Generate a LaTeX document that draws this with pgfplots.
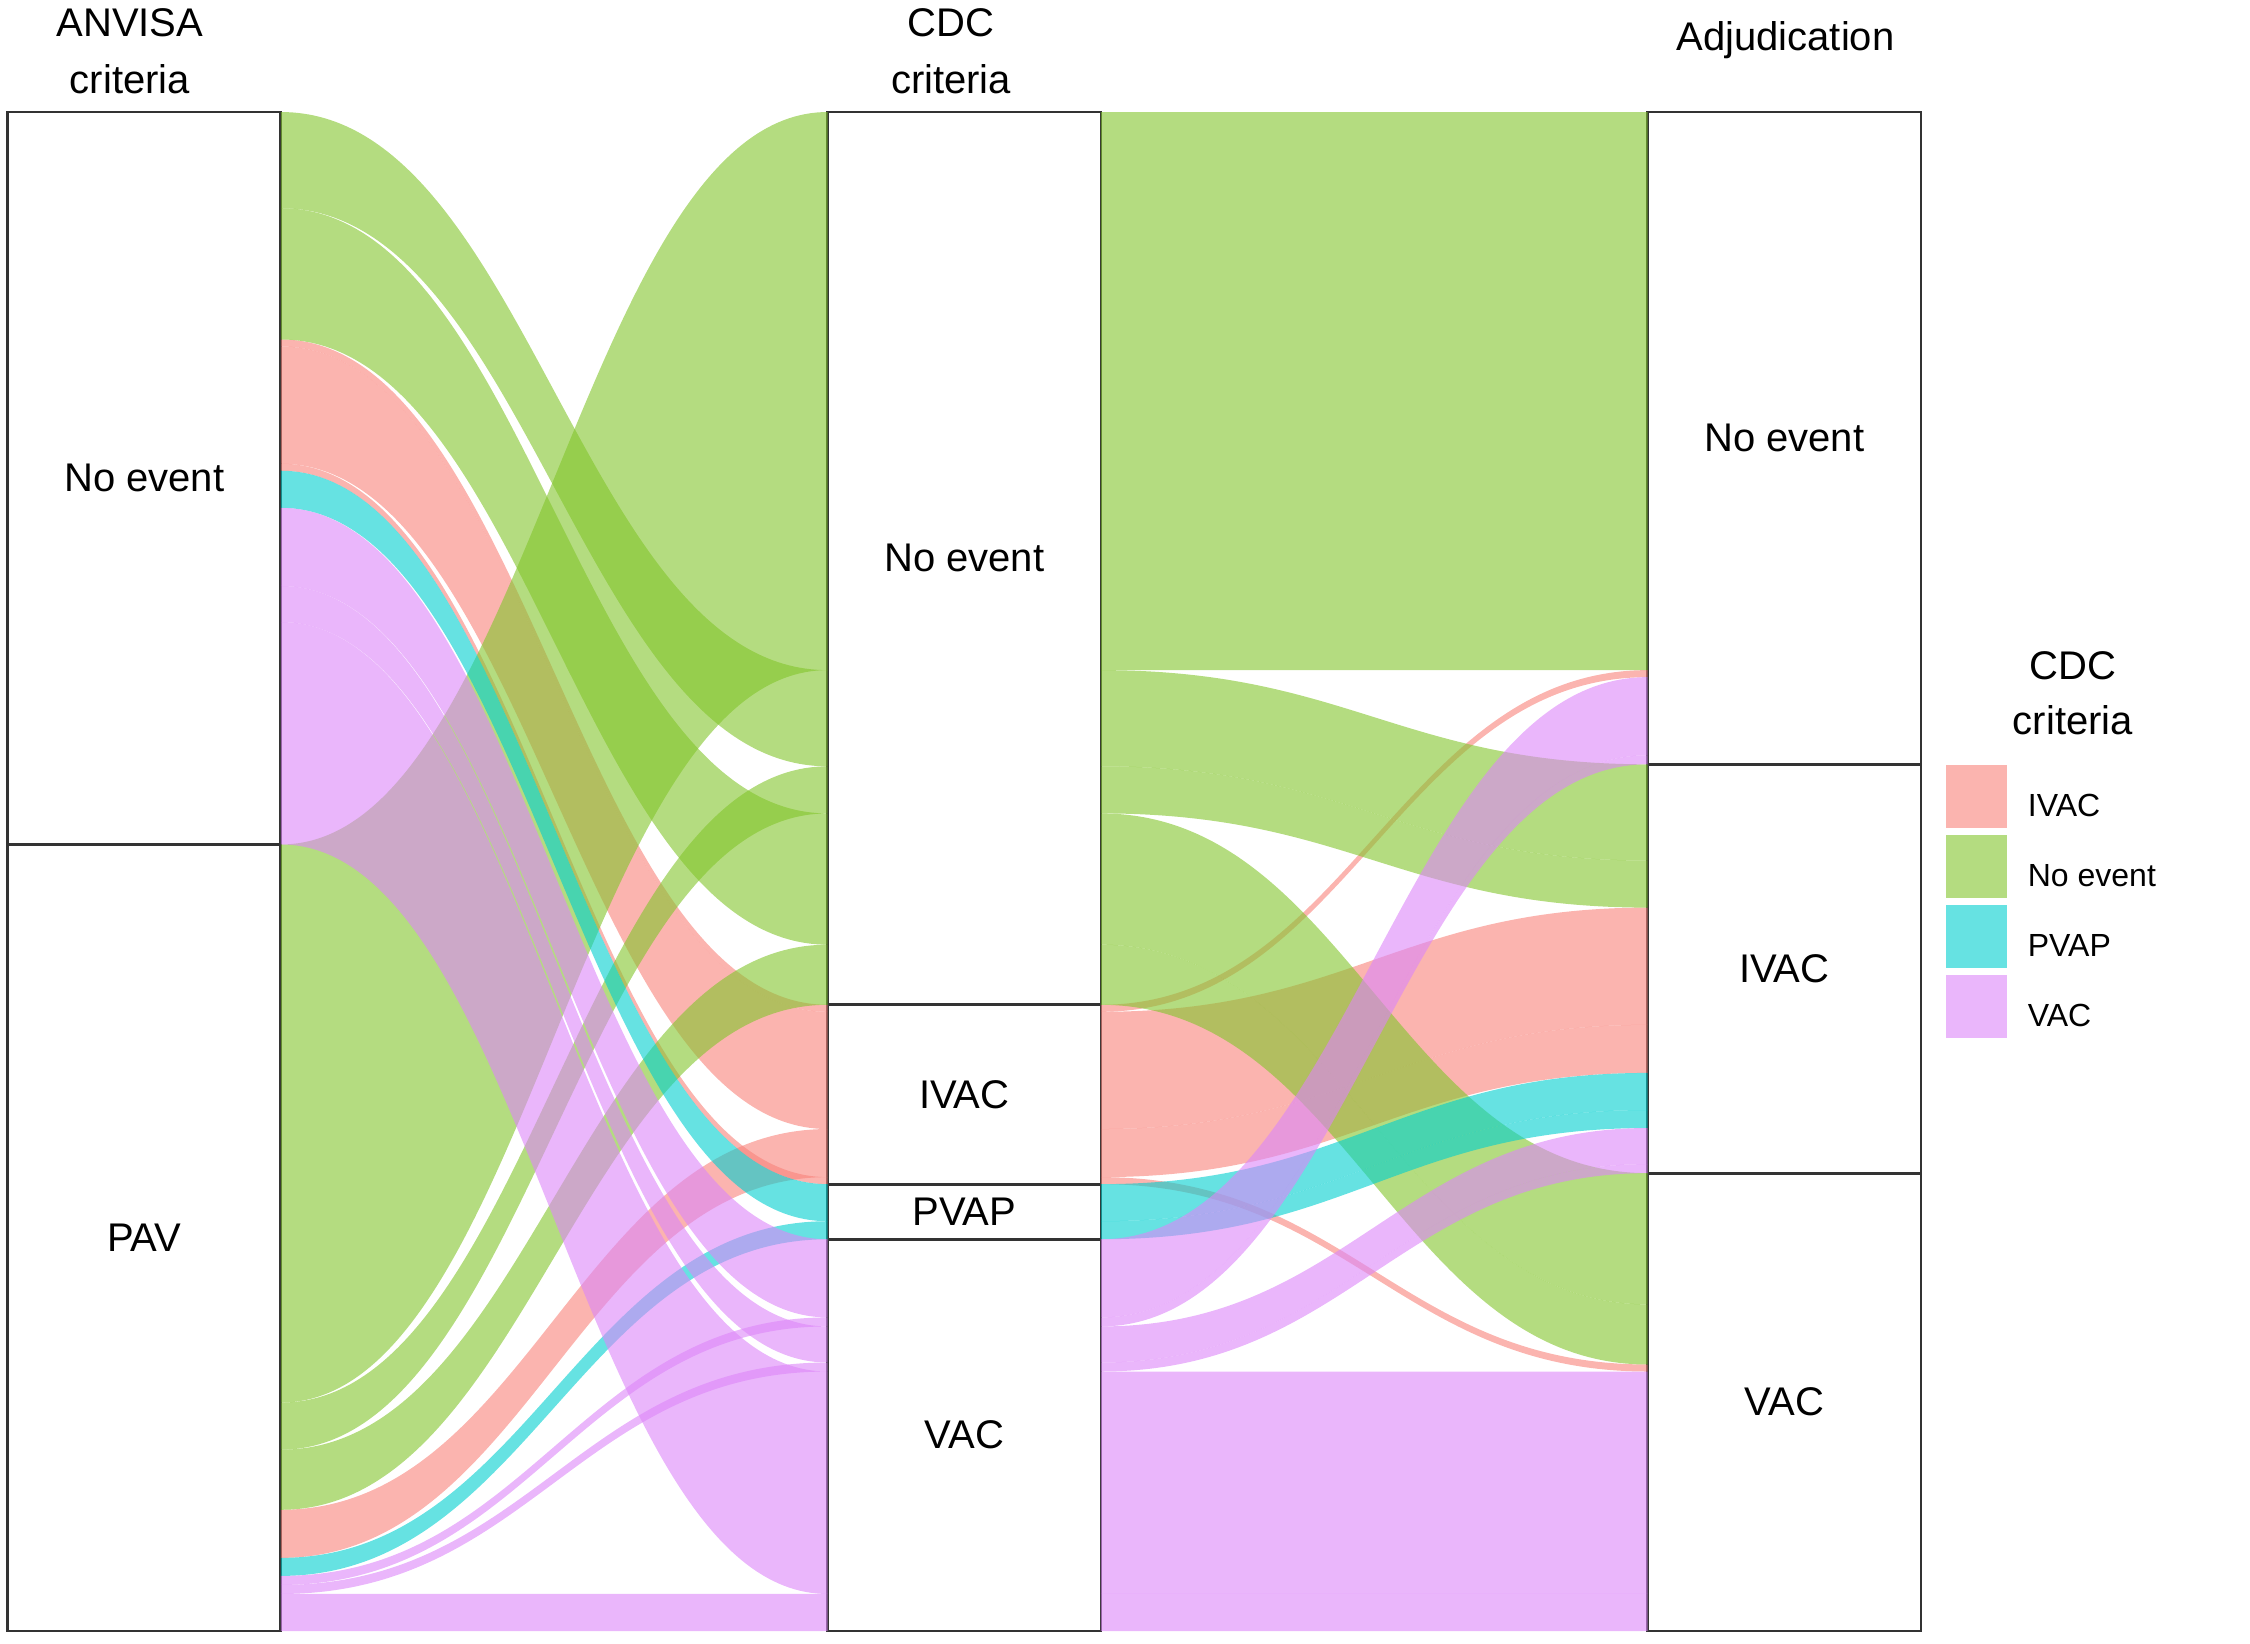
\documentclass[border=0pt]{standalone}
\usepackage{fontspec}
\setmainfont{Liberation Sans}
\usepackage{pgfplots}
\usepackage{pgfplotstable}
\pgfplotsset{compat=1.18}

\definecolor{cIVAC}{RGB}{248,130,122}
\definecolor{cNE}{RGB}{130,197,43}
\definecolor{cPVAP}{RGB}{0,207,207}
\definecolor{cVAC}{RGB}{220,133,248}

% one row per alluvium (ANVISA -> CDC -> Adjudication); value = size,
% ya, yc, yj = top of its lode (counted from the top) on each axis
\pgfplotstableread{
id value ya yc yj col
17 37 1479 1479 1479 cVAC
16 222 509 1257 1257 cVAC
15 9 1470 1248 1050 cVAC
14 36 473 1212 1014 cVAC
13 9 1461 1203 642 cVAC
12 78 395 1125 564 cVAC
11 18 1443 1107 996 cPVAP
10 37 358 1070 959 cPVAP
5 60 1335 831 1190 cNE
4 131 96 700 1059 cNE
3 47 1288 653 747 cNE
2 96 0 557 651 cNE
1 557 731 0 0 cNE
9 7 351 1063 1250 cIVAC
8 48 1395 1015 911 cIVAC
7 117 234 898 794 cIVAC
6 7 227 891 557 cIVAC
}\alluvia

\begin{document}
\begin{tikzpicture}
\begin{axis}[
  at={(0pt,0pt)}, anchor=south west,
  scale only axis, width=478.375pt, height=379.75pt,
  xmin=0.833333, xmax=3.166667, ymin=0, ymax=1516,
  y dir=reverse, hide axis, clip=false,
  ybar stacked, bar width=0.333333,
  legend image code/.code={\fill[#1, draw=none] (0pt,-5pt) rectangle (15.25pt,10.75pt);},
  legend style={at={(1.0130,0.5701)}, anchor=north west, draw=none, fill=none,
    inner sep=0pt, outer sep=0pt, font=\fontsize{8}{9.6}\selectfont,
    row sep=1.75pt, nodes={inner sep=0pt},
    /tikz/every odd column/.append style={column sep=5.25pt}},
  legend cell align=left,
]
\pgfplotstablegetrowsof{\alluvia}
\pgfmathtruncatemacro{\lastrow}{\pgfplotsretval-1}
\pgfplotsinvokeforeach{0,...,\lastrow}{%
  \pgfplotstablegetelem{#1}{value}\of\alluvia \edef\fv{\pgfplotsretval}%
  \pgfplotstablegetelem{#1}{ya}\of\alluvia \edef\fa{\pgfplotsretval}%
  \pgfplotstablegetelem{#1}{yc}\of\alluvia \edef\fc{\pgfplotsretval}%
  \pgfplotstablegetelem{#1}{yj}\of\alluvia \edef\fj{\pgfplotsretval}%
  \pgfplotstablegetelem{#1}{col}\of\alluvia \edef\fcol{\pgfplotsretval}%
  \pgfmathsetmacro\fab{\fa+\fv}%
  \pgfmathsetmacro\fcb{\fc+\fv}%
  \pgfmathsetmacro\fjb{\fj+\fv}%
  \edef\ribbon{\noexpand\fill[\fcol, fill opacity=0.6]
    (axis cs:1.166667,\fa) .. controls (axis cs:1.466667,\fa) and (axis cs:1.533333,\fc) .. (axis cs:1.833333,\fc)
    -- (axis cs:1.833333,\fcb) .. controls (axis cs:1.533333,\fcb) and (axis cs:1.466667,\fab) .. (axis cs:1.166667,\fab) -- cycle;
    \noexpand\fill[\fcol, fill opacity=0.6]
    (axis cs:2.166667,\fc) .. controls (axis cs:2.466667,\fc) and (axis cs:2.533333,\fj) .. (axis cs:2.833333,\fj)
    -- (axis cs:2.833333,\fjb) .. controls (axis cs:2.533333,\fjb) and (axis cs:2.466667,\fcb) .. (axis cs:2.166667,\fcb) -- cycle;}%
  \ribbon
}
% strata (stacked from the top)
\addplot[forget plot, fill=white, draw=black!80, line width=0.7pt] coordinates {(1,731) (2,891) (3,651)};
\addplot[forget plot, fill=white, draw=black!80, line width=0.7pt] coordinates {(1,785) (2,179) (3,408)};
\addplot[forget plot, fill=white, draw=black!80, line width=0.7pt] coordinates {(1,0) (2,55) (3,457)};
\addplot[forget plot, fill=white, draw=black!80, line width=0.7pt] coordinates {(1,0) (2,391) (3,0)};

\addlegendimage{cIVAC, fill opacity=0.6}\addlegendentry{IVAC}
\addlegendimage{cNE, fill opacity=0.6}\addlegendentry{No event}
\addlegendimage{cPVAP, fill opacity=0.6}\addlegendentry{PVAP}
\addlegendimage{cVAC, fill opacity=0.6}\addlegendentry{VAC}

\coordinate (s1) at (axis cs:1,365.5);
\coordinate (s2) at (axis cs:1,1123.5);
\coordinate (s3) at (axis cs:2,445.5);
\coordinate (s4) at (axis cs:2,980.5);
\coordinate (s5) at (axis cs:2,1097.5);
\coordinate (s6) at (axis cs:2,1320.5);
\coordinate (s7) at (axis cs:3,325.5);
\coordinate (s8) at (axis cs:3,855);
\coordinate (s9) at (axis cs:3,1287.5);

\begingroup
\fontsize{10}{12}\selectfont
\node[anchor=base] at (axis description cs:0.064,1.0496) {ANVISA};
\node[anchor=base] at (axis description cs:0.064,1.0125) {criteria};
\node[anchor=base] at (axis description cs:0.4931,1.0496) {CDC};
\node[anchor=base] at (axis description cs:0.4931,1.0125) {criteria};
\node[anchor=base] at (axis description cs:0.9292,1.0404) {Adjudication};
\node[anchor=base] at (axis description cs:1.0794,0.6261) {CDC};
\node[anchor=base] at (axis description cs:1.0794,0.5899) {criteria};
\endgroup
\end{axis}
\begin{scope}[every node/.style={font=\fontsize{10}{12}\selectfont}]
\node at (s1) {No event};
\node at (s2) {PAV};
\node at (s3) {No event};
\node at (s4) {IVAC};
\node at (s5) {PVAP};
\node at (s6) {VAC};
\node at (s7) {No event};
\node at (s8) {IVAC};
\node at (s9) {VAC};
\end{scope}
\pgfresetboundingbox
\path[use as bounding box] (-1.875pt,-3pt) rectangle (560.625pt,407.75pt);
\end{tikzpicture}
\end{document}
